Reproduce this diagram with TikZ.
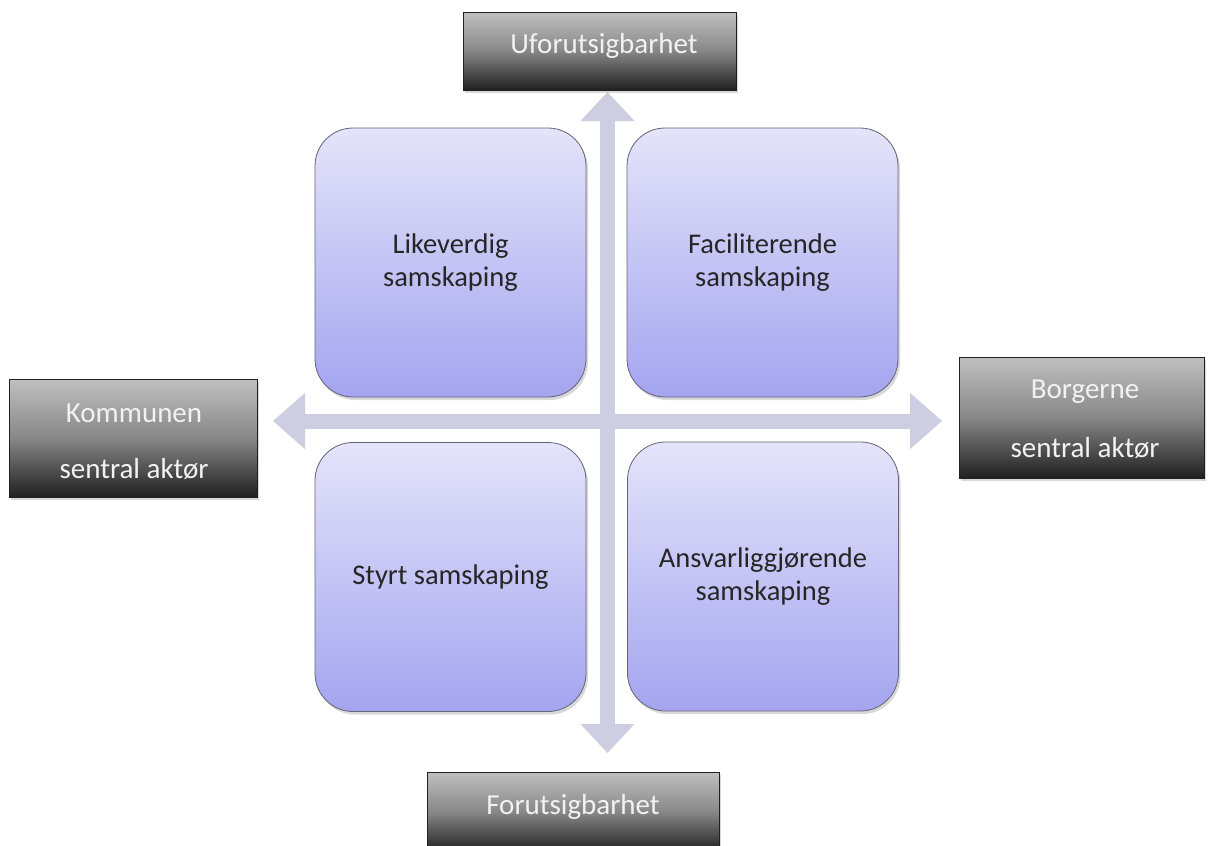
\documentclass[tikz,border=0pt]{standalone}
\usepackage{fontspec}
\setmainfont{Carlito}
\usetikzlibrary{shadows,arrows.meta}
\definecolor{axiscol}{RGB}{206,206,226}
\definecolor{boxtop}{RGB}{228,228,250}
\definecolor{boxbot}{RGB}{164,164,240}
\definecolor{boxline}{RGB}{100,100,120}
\definecolor{gdark}{RGB}{32,32,32}
\definecolor{gmid}{RGB}{135,135,135}
\definecolor{glight}{RGB}{192,192,192}
\definecolor{gtext}{RGB}{242,242,242}
\definecolor{qtext}{RGB}{38,38,38}
\pgfdeclareverticalshading{grayfill}{100bp}{color(0bp)=(gdark); color(25bp)=(gdark); color(50bp)=(gmid); color(75bp)=(glight); color(100bp)=(glight)}
\begin{document}
\begin{tikzpicture}[x=1pt,y=-1pt,
  quad/.style={rectangle, rounded corners=38pt, minimum width=271pt, minimum height=269pt,
    draw=boxline, line width=0.8pt, top color=boxtop, bottom color=boxbot, align=center,
    text=qtext, font=\fontsize{28.5}{33}\selectfont, inner sep=0pt,
    drop shadow={shadow xshift=2pt, shadow yshift=-3pt, opacity=0.3}},
  pole/.style={rectangle, draw=gdark, line width=1pt, shading=grayfill, inner sep=0pt,
    drop shadow={shadow xshift=2pt, shadow yshift=-3pt, opacity=0.3}},
  poletext/.style={text=gtext, font=\fontsize{29}{34}\selectfont, anchor=base, inner sep=0pt},
  axis/.style={draw=axiscol, line width=15pt},
  haxis/.style={axis, arrows={Triangle[width=54pt,length=32pt]-Triangle[width=54pt,length=32pt]}},
  vaxis/.style={axis, arrows={Triangle[width=52pt,length=29pt]-Triangle[width=52pt,length=29pt]}},
  axshadow/.style={draw=black, opacity=0.08, shift={(1.5,2.5)}}
]
\useasboundingbox (0,0) rectangle (1213,846);
\fill[white] (0,0) rectangle (1213,846);

% axes
\coordinate (hl) at (273,421);
\coordinate (hr) at (942,421);
\coordinate (vt) at (607.5,92);
\coordinate (vb) at (607.5,753);
\draw[haxis, axshadow] (hl) -- (hr);
\draw[vaxis, axshadow] (vt) -- (vb);
\draw[haxis] (hl) -- (hr);
\draw[vaxis] (vt) -- (vb);

% end boxes
\node[pole, minimum width=273pt, minimum height=78pt] (top) at (599.5,51) {};
\node[poletext] (topT) at (604,53) {Uforutsigbarhet};
\node[pole, minimum width=292pt, minimum height=80pt] (bot) at (573,812) {};
\node[poletext] (botT) at (573,814) {Forutsigbarhet};
\node[pole, minimum width=248pt, minimum height=118pt] (left) at (133,438) {};
\node[poletext] (leftA) at (134,422) {Kommunen};
\node[poletext] (leftB) at (134,478) {sentral aktør};
\node[pole, minimum width=245pt, minimum height=121pt] (right) at (1081.5,417.5) {};
\node[poletext] (rightA) at (1085,398) {Borgerne};
\node[poletext] (rightB) at (1085,457) {sentral aktør};

% quadrants
\node[quad] (tl) at (450.5,262.5) {Likeverdig\\samskaping};
\node[quad] (tr) at (762.5,262.5) {Faciliterende\\samskaping};
\node[quad] (bl) at (450.5,577) {Styrt samskaping};
\node[quad] (br) at (763,576.5) {Ansvarliggjørende\\samskaping};
\end{tikzpicture}
\end{document}
